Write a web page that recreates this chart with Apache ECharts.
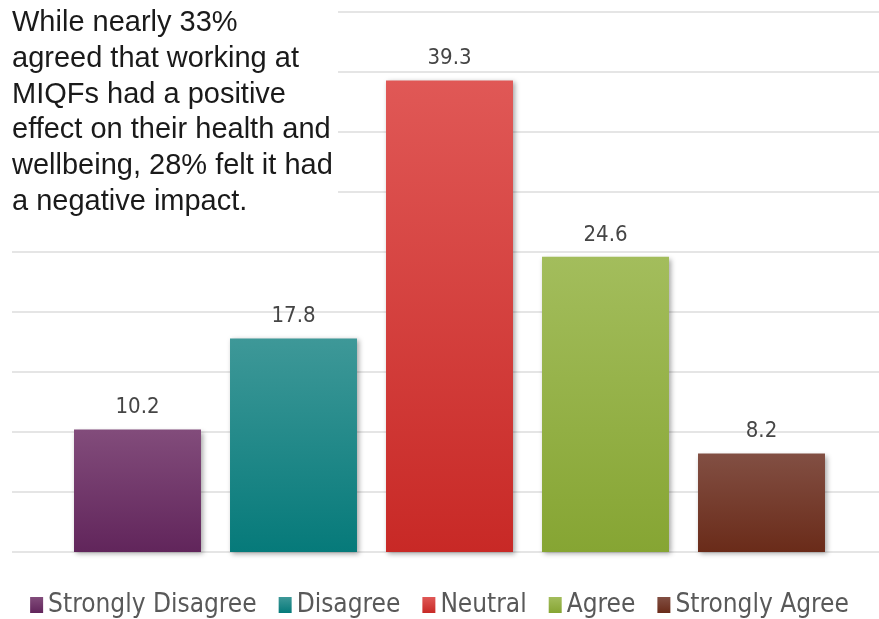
<!DOCTYPE html>
<html>
<head>
<meta charset="utf-8">
<script src="https://cdn.jsdelivr.net/npm/echarts@6/dist/echarts.min.js"></script>
<style>
  html, body { margin: 0; padding: 0; background: #ffffff; }
  #chart { width: 879px; height: 619px; }
</style>
</head>
<body>
<div id="chart"></div>
<script>
// Survey responses (% of respondents)
const categories = ['Strongly Disagree', 'Disagree', 'Neutral', 'Agree', 'Strongly Agree'];
const values = [10.2, 17.8, 39.3, 24.6, 8.2];
const yTicks = [0, 5, 10, 15, 20, 25, 30, 35, 40, 45];

// Vertical gradient (top, bottom) for each response
const palette = [
  ['#824c7b', '#61255b'],
  ['#3e9898', '#067a7a'],
  ['#e05856', '#c82926'],
  ['#a3bd5c', '#86a533'],
  ['#824f43', '#6a2b19']
];

const note = 'While nearly 33%\nagreed that working at\nMIQFs had a positive\neffect on their health and\nwellbeing, 28% felt it had\na negative impact.';

const labelFont = '"Liberation Sans Narrow", "DejaVu Sans Condensed", sans-serif';

function grad(pair) {
  return new echarts.graphic.LinearGradient(0, 0, 0, 1, [
    { offset: 0, color: pair[0] },
    { offset: 1, color: pair[1] }
  ]);
}

const series = categories.map((name, i) => ({
  name: name,
  type: 'bar',
  xAxisIndex: 1,
  yAxisIndex: 1,
  stack: 'responses',
  barCategoryGap: '18.6%',
  data: categories.map((c, j) => (j === i ? values[i] : '-')),
  itemStyle: {
    color: grad(palette[i]),
    shadowColor: 'rgba(0,0,0,0.35)',
    shadowBlur: 5,
    shadowOffsetX: 2,
    shadowOffsetY: 2
  },
  label: {
    show: true,
    position: 'top',
    distance: 11,
    color: '#454545',
    fontFamily: labelFont,
    fontSize: 22,
    formatter: p => Number(p.value).toFixed(1)
  }
}));

const chart = echarts.init(document.getElementById('chart'), null, { renderer: 'canvas' });

chart.setOption({
  animation: false,
  backgroundColor: '#ffffff',
  grid: [
    { left: 12, right: 0, top: 12, bottom: 67 },
    { left: 59.5, right: 39.5, top: 12, bottom: 67 }
  ],
  xAxis: [
    { gridIndex: 0, type: 'category', data: categories, show: false },
    {
      gridIndex: 1, type: 'category', data: categories,
      axisLine: { show: false }, axisTick: { show: false }, axisLabel: { show: false }
    }
  ],
  yAxis: [
    {
      gridIndex: 0, type: 'value', min: yTicks[0], max: yTicks[yTicks.length - 1], interval: 5,
      axisLine: { show: false }, axisTick: { show: false }, axisLabel: { show: false },
      splitLine: { show: true, lineStyle: { color: '#dcdcdc', width: 1.5 } }
    },
    {
      gridIndex: 1, type: 'value', min: yTicks[0], max: yTicks[yTicks.length - 1], interval: 5,
      show: false, splitLine: { show: false }
    }
  ],
  legend: {
    top: 587,
    left: 'center',
    icon: 'rect',
    itemWidth: 13,
    itemHeight: 16,
    itemGap: 22,
    textStyle: {
      color: '#595959',
      fontFamily: labelFont,
      fontSize: 26
    },
    data: categories
  },
  graphic: [
    {
      type: 'rect',
      z: 100,
      shape: { x: 0, y: 0, width: 338, height: 224 },
      style: { fill: '#ffffff' }
    },
    {
      type: 'text',
      z: 101,
      left: 12,
      top: 5,
      style: {
        text: note,
        fill: '#1a1a1a',
        font: '29px "Liberation Sans", Arial, sans-serif',
        lineHeight: 35.8
      }
    }
  ],
  series: series
});
</script>
</body>
</html>
